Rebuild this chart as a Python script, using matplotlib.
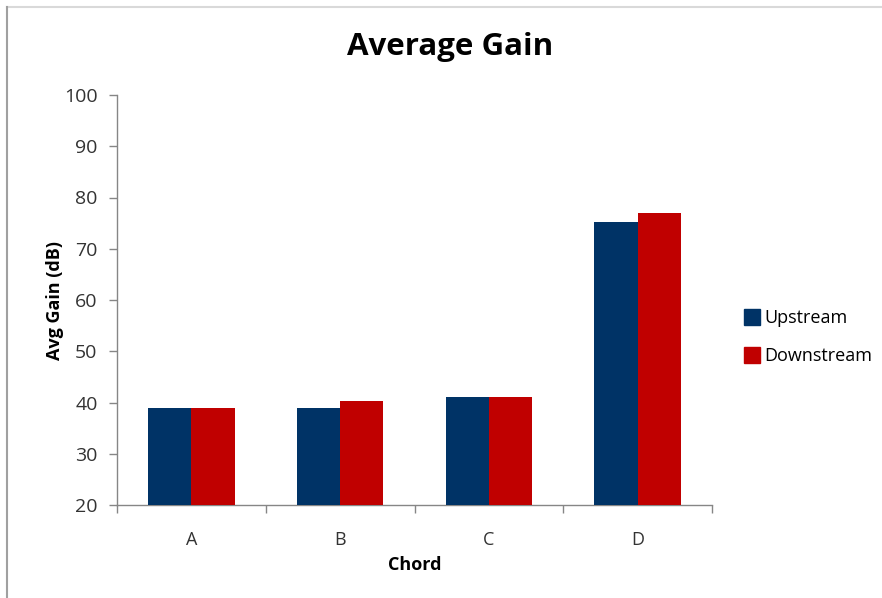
import matplotlib
matplotlib.use("Agg")
import matplotlib.pyplot as plt
import numpy as np
from matplotlib.lines import Line2D

categories = ["A", "B", "C", "D"]
upstream = [39.0, 39.0, 41.1, 75.2]
downstream = [39.0, 40.2, 41.1, 77.0]
series_names = ["Upstream", "Downstream"]
colors = ["#003366", "#C00000"]
yticks = [20, 30, 40, 50, 60, 70, 80, 90, 100]

plt.rcParams['font.family'] = ['Open Sans', 'DejaVu Sans']

fig = plt.figure(figsize=(8.82, 5.98), dpi=100)
ax = fig.add_axes([117/882, 1-505/598, (712-117)/882, (505-95)/598])

x = np.arange(len(categories))
w = 0.29
ax.bar(x - w/2, upstream, w, color=colors[0], label=series_names[0], zorder=3)
ax.bar(x + w/2, downstream, w, color=colors[1], label=series_names[1], zorder=3)

ax.set_xlim(-0.5, len(categories) - 0.5)
ax.set_ylim(20, 100)
ax.set_yticks(yticks)
ax.set_yticklabels([str(v) for v in yticks], fontsize=14, color="#333333")
ax.set_xticks(x)
ax.set_xticklabels(categories, fontsize=13, color="#333333")
ax.tick_params(axis='x', which='major', length=0, pad=19)
ax.set_xticks(np.arange(-0.5, len(categories), 1.0), minor=True)
ax.tick_params(axis='x', which='minor', length=6, color="#868686", width=1)
ax.tick_params(axis='y', length=6, color="#868686", width=1, pad=8)

for s in ["top", "right"]:
    ax.spines[s].set_visible(False)
for s in ["left", "bottom"]:
    ax.spines[s].set_color("#868686")
    ax.spines[s].set_linewidth(1)

ax.set_ylabel("Avg Gain (dB)", fontsize=13, fontweight="bold", labelpad=0)
ax.set_xlabel("Chord", fontsize=13, fontweight="bold", labelpad=5)

fig.text(450/882, 1-47/598, "Average Gain", ha="center", va="center",
         fontsize=22.5, fontweight="bold")

handles = [Line2D([0], [0], marker='s', linestyle='none', markersize=11,
                  markerfacecolor=c, markeredgecolor=c) for c in colors]
fig.legend(handles, series_names, loc="center left",
           bbox_to_anchor=(725/882, 1-337/598), frameon=False,
           fontsize=13, handletextpad=0.1, labelspacing=1.1, handlelength=1.2)

# outer frame lines (top and left)
fig.add_artist(Line2D([7/882, 1], [1-7/598, 1-7/598], color="#D9D9D9", lw=1.5,
                      transform=fig.transFigure))
fig.add_artist(Line2D([7/882, 7/882], [0, 1-7/598], color="#A0A0A0", lw=1.5,
                      transform=fig.transFigure))

fig.savefig("out.png", dpi=100, facecolor="white")
